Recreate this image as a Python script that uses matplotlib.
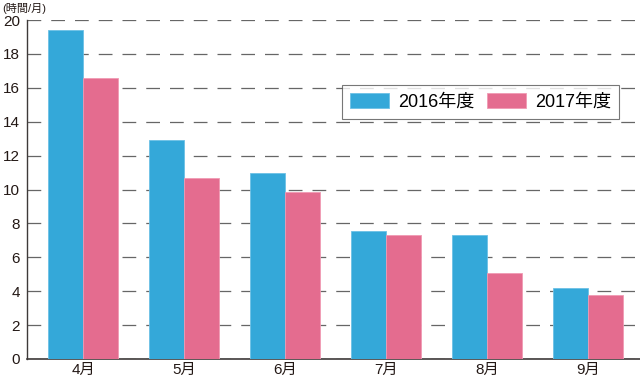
import matplotlib
matplotlib.use("Agg")
import matplotlib.pyplot as plt
import numpy as np

plt.rcParams['font.family'] = ['Liberation Sans', 'Noto Sans CJK JP', 'DejaVu Sans']

months = ["4月", "5月", "6月", "7月", "8月", "9月"]
fy2016 = [19.4, 12.9, 11.0, 7.55, 7.3, 4.2]
fy2017 = [16.6, 10.7, 9.85, 7.3, 5.1, 3.8]
series_names = ["2016年度", "2017年度"]
yticks = [0, 2, 4, 6, 8, 10, 12, 14, 16, 18, 20]

fig = plt.figure(figsize=(6.4, 3.79), dpi=100)
ax = fig.add_axes([27/640, 20/379, 1 - 27/640, 339/379])

x = np.arange(len(months))
w = 0.35
ax.bar(x - w/2, fy2016, w, color="#34A8D9", edgecolor="#6cc0e6", linewidth=0.6, label=series_names[0], zorder=3)
ax.bar(x + w/2, fy2017, w, color="#E46C8F", edgecolor="#f09ab3", linewidth=0.6, label=series_names[1], zorder=3)

ax.set_xlim(-0.555, 5.515)
ax.set_ylim(0, 20)
ax.set_yticks(yticks)
ax.set_xticks(x)
ax.set_xticklabels(months)
ax.tick_params(axis='y', length=0, labelsize=11, pad=5, colors="#231815")
ax.tick_params(axis='x', length=0, labelsize=11, pad=3, colors="#231815")
ax.yaxis.grid(True, linestyle=(0, (11, 8)), color="#666666", linewidth=0.9, zorder=0)
ax.spines['top'].set_visible(False)
ax.spines['right'].set_visible(False)
ax.spines['left'].set_color("#3e3a39")
ax.spines['bottom'].set_color("#3e3a39")
ax.spines['left'].set_linewidth(1.0)
ax.spines['bottom'].set_linewidth(1.2)

leg = ax.legend(loc="upper left", bbox_to_anchor=((342-27)/613, (359-85)/339), ncol=2,
                frameon=True, fancybox=False, fontsize=13, handlelength=2.15, handleheight=0.85,
                handletextpad=0.5, columnspacing=0.7, borderpad=0.45, borderaxespad=0,
                edgecolor="#555555")
leg.get_frame().set_linewidth(0.8)

fig.text(2/640, 1 - 9/379, "(時間/月)", fontsize=8, va="center", ha="left", color="#231815")

fig.savefig("out.png", dpi=100)
